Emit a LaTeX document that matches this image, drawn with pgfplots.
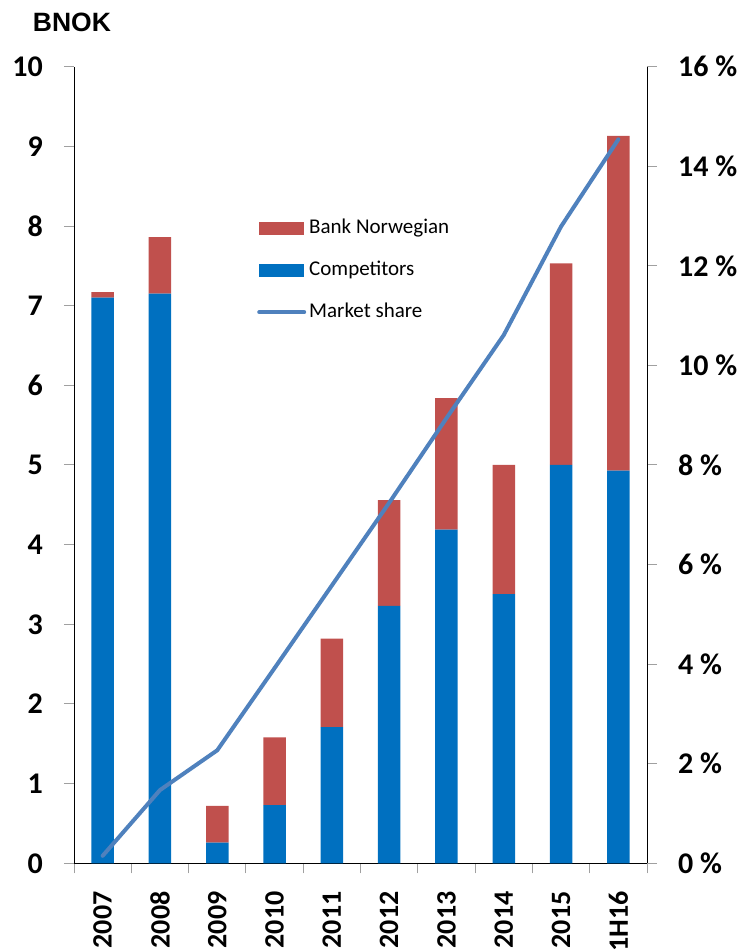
\documentclass[border=0pt]{standalone}
\usepackage{pgfplots}
\usepackage{pgfplotstable}
\pgfplotsset{compat=1.18}
\usepackage{fontspec}
\setmainfont{Carlito}
\newfontfamily\arialfont{Liberation Sans}

\definecolor{bnred}{RGB}{192,80,77}
\definecolor{compblue}{RGB}{0,112,192}
\definecolor{shareblue}{RGB}{79,129,189}
\definecolor{axisgray}{RGB}{160,160,160}

% Lending volumes (BNOK) and market share (%)
\pgfplotstableread{
x comp bank share
0 7.10 0.07 0.15
1 7.15 0.71 1.47
2 0.26 0.46 2.27
3 0.73 0.85 3.92
4 1.71 1.11 5.58
5 3.23 1.33 7.24
6 4.19 1.65 8.94
7 3.38 1.62 10.61
8 5.00 2.53 12.79
9 4.93 4.20 14.54
}\data

\pgfplotsset{
  common/.style={
    scale only axis,
    width=573pt, height=796.6pt,
    at={(74pt,87.7pt)}, anchor=south west,
    xmin=-0.5, xmax=9.5,
    tick align=outside,
    major tick length=10pt,
    minor tick length=10pt,
    every axis line/.style={draw=axisgray, line width=1pt},
    every tick/.style={draw=axisgray, line width=1pt},
    ticklabel style={font=\fontsize{30}{30}\selectfont\bfseries, inner sep=0pt},
  },
  barlegend/.style={legend image code/.code={\fill[##1, draw=none] (0pt,-6.5pt) rectangle (45pt,6.5pt);}},
  sharelegend/.style={legend image code/.code={\draw[##1] (0pt,0pt) -- (45pt,0pt);}},
}

\begin{document}
\begin{tikzpicture}
\useasboundingbox (0,0) rectangle (745pt,951pt);

\begin{axis}[
  common,
  ybar stacked,
  bar width=22.5pt,
  ymin=0, ymax=10,
  axis y line*=left,
  axis x line*=bottom,
  ytick={0,1,...,10},
  yticklabels={0,1,2,3,4,5,6,7,8,9,10},
  yticklabel style={xshift=-21pt},
  xtick={0,...,9},
  xticklabels={2007,2008,2009,2010,2011,2012,2013,2014,2015,1H16},
  major x tick style={draw=none},
  minor xtick={-0.5,0.5,...,9.5},
  xticklabel style={yshift=-18pt, rotate=90, anchor=east,
    font=\fontsize{28}{28}\selectfont\bfseries},
]
\addplot[fill=compblue, draw=none] table[x=x, y=comp] {\data};
\addplot[fill=bnred, draw=none] table[x=x, y=bank] {\data};
\end{axis}

\begin{axis}[
  common,
  ymin=0, ymax=16,
  axis x line=none,
  axis y line*=right,
  ytick={0,2,...,16},
  yticklabels={0~\%,2~\%,4~\%,6~\%,8~\%,10~\%,12~\%,14~\%,16~\%},
  yticklabel style={xshift=21pt},
  legend style={
    at={(axis description cs:0.3194,0.81)}, anchor=north west,
    draw=none, fill=none, inner sep=0pt,
    font=\fontsize{21}{25}\selectfont,
    row sep=22pt, column sep=3pt,
    nodes={inner sep=0pt, text height=15pt, text depth=5pt},
  },
  legend cell align=left,
]
\addlegendimage{barlegend, fill=bnred}
\addlegendentry{Bank Norwegian}
\addlegendimage{barlegend, fill=compblue}
\addlegendentry{Competitors}
\addplot[shareblue, line width=4pt, line join=round, line cap=round, sharelegend]
  table[x=x, y=share] {\data};
\addlegendentry{Market share}
\end{axis}

\node[anchor=base west, inner sep=0pt, font=\arialfont\bfseries\fontsize{26.5}{26.5}\selectfont]
  at (32.7pt,919.3pt) {BNOK};
\end{tikzpicture}
\end{document}
